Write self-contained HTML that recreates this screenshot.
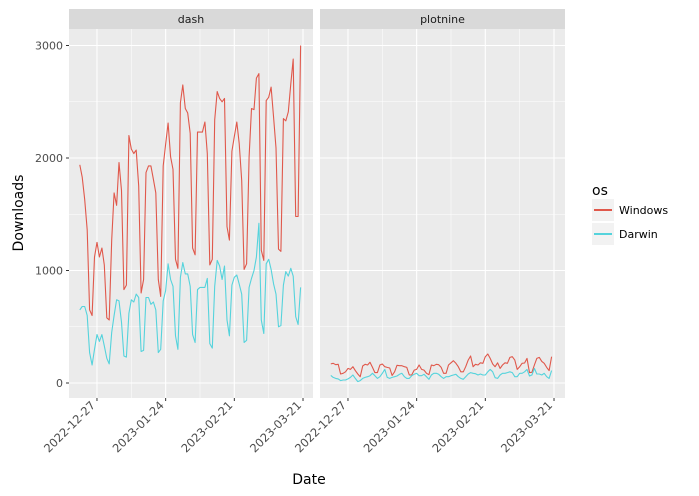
<!DOCTYPE html>
<html><head><meta charset="utf-8"><style>
html,body{margin:0;padding:0;background:#fff;}
svg{display:block;font-family:"DejaVu Sans","Liberation Sans",sans-serif;}
</style></head><body>
<svg id="chart" width="699" height="496" viewBox="0 0 699 496"></svg>
<script>
const facets = ["dash", "plotnine"];
const seriesNames = ["Windows", "Darwin"];
const startDate = "2022-12-20";
const yTicks = [0, 1000, 2000, 3000];
const xTickLabels = ["2022-12-27", "2023-01-24", "2023-02-21", "2023-03-21"];
const dashWindows = [1940,1830,1630,1360,650,600,
1120,1250,1120,1200,1050,580,560,
1270,1690,1580,1960,1710,830,870,
2200,2080,2040,2070,1750,800,920,
1870,1930,1930,1810,1690,920,770,
1930,2120,2310,2010,1900,1100,1020,
2490,2650,2440,2400,2220,1200,1140,
2230,2230,2230,2320,2040,1050,1100,
2340,2590,2530,2500,2530,1390,1270,
2060,2190,2320,2130,1800,1010,1060,
2010,2440,2430,2710,2750,1180,1090,
2510,2540,2630,2360,2090,1190,1170,
2350,2330,2410,2660,2880,1480,1480,
3000];
const dashDarwin = [650,680,680,600,270,160,
300,430,370,430,330,220,170,
450,600,740,730,540,240,230,
620,740,720,790,760,280,290,
760,760,700,720,650,270,300,
730,820,1060,920,860,420,300,
940,1070,970,970,860,430,360,
830,850,850,850,930,350,310,
860,1090,1040,920,1040,560,420,
870,940,960,880,790,360,380,
850,930,1000,1120,1420,560,440,
1060,1100,1010,880,790,500,510,
870,990,950,1020,950,590,520,
850];
const plotnineWindows = [170,175,163,166,80,86,100,130,121,145,110,80,56,151,166,160,184,139,92,92,160,169,145,139,133,68,100,157,154,154,145,139,71,71,115,121,160,121,115,86,74,160,154,166,163,139,86,86,160,180,198,175,145,100,100,145,204,240,145,166,160,180,175,234,258,219,169,145,180,130,160,180,175,228,234,204,121,145,175,178,219,92,95,160,219,228,192,175,139,110,234];
const plotnineDarwin = [68,50,41,36,21,27,27,36,50,71,41,12,21,41,50,56,65,86,65,41,56,86,121,50,41,50,56,62,77,86,56,41,41,65,77,86,65,65,77,56,33,71,86,86,77,56,41,56,56,65,71,77,56,41,33,56,80,92,86,83,71,80,71,71,100,121,100,47,41,71,86,86,92,100,92,56,56,86,86,100,121,62,71,130,80,80,71,86,56,41,110];
const panelData = [[dashWindows, dashDarwin],[plotnineWindows, plotnineDarwin]];
const colors = ["#e0584b", "#55d3dc"];

const NS = "http://www.w3.org/2000/svg";
const svg = document.getElementById("chart");
function mk(tag, attrs, parent){ const e=document.createElementNS(NS,tag); for(const k in attrs) e.setAttribute(k,attrs[k]); (parent||svg).appendChild(e); return e; }
const panels = [{x0:69,x1:313},{x0:320,x1:565}];
const yTop = 29, yBot = 398;
const dayPx = 2.453;
const t0 = Date.parse(startDate+"T00:00:00Z");
function dayIdx(s){ return (Date.parse(s+"T00:00:00Z")-t0)/86400000; }
function xScale(p, d){ return panels[p].x0 + (d + 4.4) * dayPx; }
function yScale(v){ return 383 - v * 0.1125; }

panels.forEach((pp, p) => {
  const g = mk("g", {});
  
  
  const bg = mk("rect", {x:pp.x0, y:yTop, width:pp.x1-pp.x0, height:yBot-yTop, fill:"#ebebeb"}, g);
  
  
  for (let i=0;i<yTicks.length-1;i++){
    const v=(yTicks[i]+yTicks[i+1])/2, y=yScale(v);
    mk("line",{x1:pp.x0,x2:pp.x1,y1:y,y2:y,stroke:"#fff","stroke-width":0.5},g);
  }
  for (let i=-1;i<xTickLabels.length;i++){
    const d = i<0 ? dayIdx(xTickLabels[0])-14 : dayIdx(xTickLabels[i])+14;
    const x=xScale(p,d); if (x<pp.x0||x>pp.x1) continue;
    mk("line",{x1:x,x2:x,y1:yTop,y2:yBot,stroke:"#fff","stroke-width":0.5},g);
  }
  yTicks.forEach(v=>{ const y=yScale(v); mk("line",{x1:pp.x0,x2:pp.x1,y1:y,y2:y,stroke:"#fff","stroke-width":1.1},g); });
  xTickLabels.forEach(lbl=>{
    const x=xScale(p,dayIdx(lbl));
    mk("line",{x1:x,x2:x,y1:yTop,y2:yBot,stroke:"#fff","stroke-width":1.1},g);
    mk("line",{x1:x,x2:x,y1:yBot,y2:yBot+3,stroke:"#333","stroke-width":1},g);
    const t=mk("text",{x:0,y:0,"font-size":11.5,fill:"#4d4d4d","text-anchor":"end",transform:`translate(${x-1},${yBot+8}) rotate(-45)`},g);
    
    
    t.textContent=lbl;
  });
  const st = mk("rect",{x:pp.x0,y:9,width:pp.x1-pp.x0,height:20,fill:"#d9d9d9"},g);
  
  
  const stt = mk("text",{x:(pp.x0+pp.x1)/2,y:23,"font-size":11,fill:"#1a1a1a","text-anchor":"middle"},g);
  
  
  stt.textContent = facets[p];
  panelData[p].forEach((arr, s) => {
    const pts = arr.map((v,i)=>xScale(p,i).toFixed(1)+","+yScale(v).toFixed(1)).join(" ");
    const pl = mk("polyline",{points:pts,fill:"none",stroke:colors[s],"stroke-width":1.1,"stroke-linejoin":"round"},g);
    
    
  });
});
yTicks.forEach(v=>{
  const y=yScale(v);
  mk("line",{x1:66,x2:69,y1:y,y2:y,stroke:"#333","stroke-width":1});
  const t=mk("text",{x:63,y:y+4,"font-size":11,fill:"#4d4d4d","text-anchor":"end"});
  
  
  t.textContent=v;
});
const xt=mk("text",{x:309,y:484,"font-size":14,fill:"#000","text-anchor":"middle"});


xt.textContent="Date";
const yt=mk("text",{x:0,y:0,"font-size":14,fill:"#000","text-anchor":"middle",transform:"translate(23,213) rotate(-90)"});


yt.textContent="Downloads";
const lg = mk("g",{});


const lt=mk("text",{x:592,y:195,"font-size":14,fill:"#000"},lg);


lt.textContent="os";
seriesNames.forEach((n,i)=>{
  const y=199+i*24;
  const e=mk("g",{},lg);
  
  
  mk("rect",{x:592,y:y,width:22,height:22,fill:"#f2f2f2"},e);
  mk("line",{x1:594,x2:612,y1:y+11,y2:y+11,stroke:colors[i],"stroke-width":2},e);
  const t=mk("text",{x:619,y:y+15,"font-size":11,fill:"#000"},e);
  t.textContent=n;
});
</script>
</body></html>
